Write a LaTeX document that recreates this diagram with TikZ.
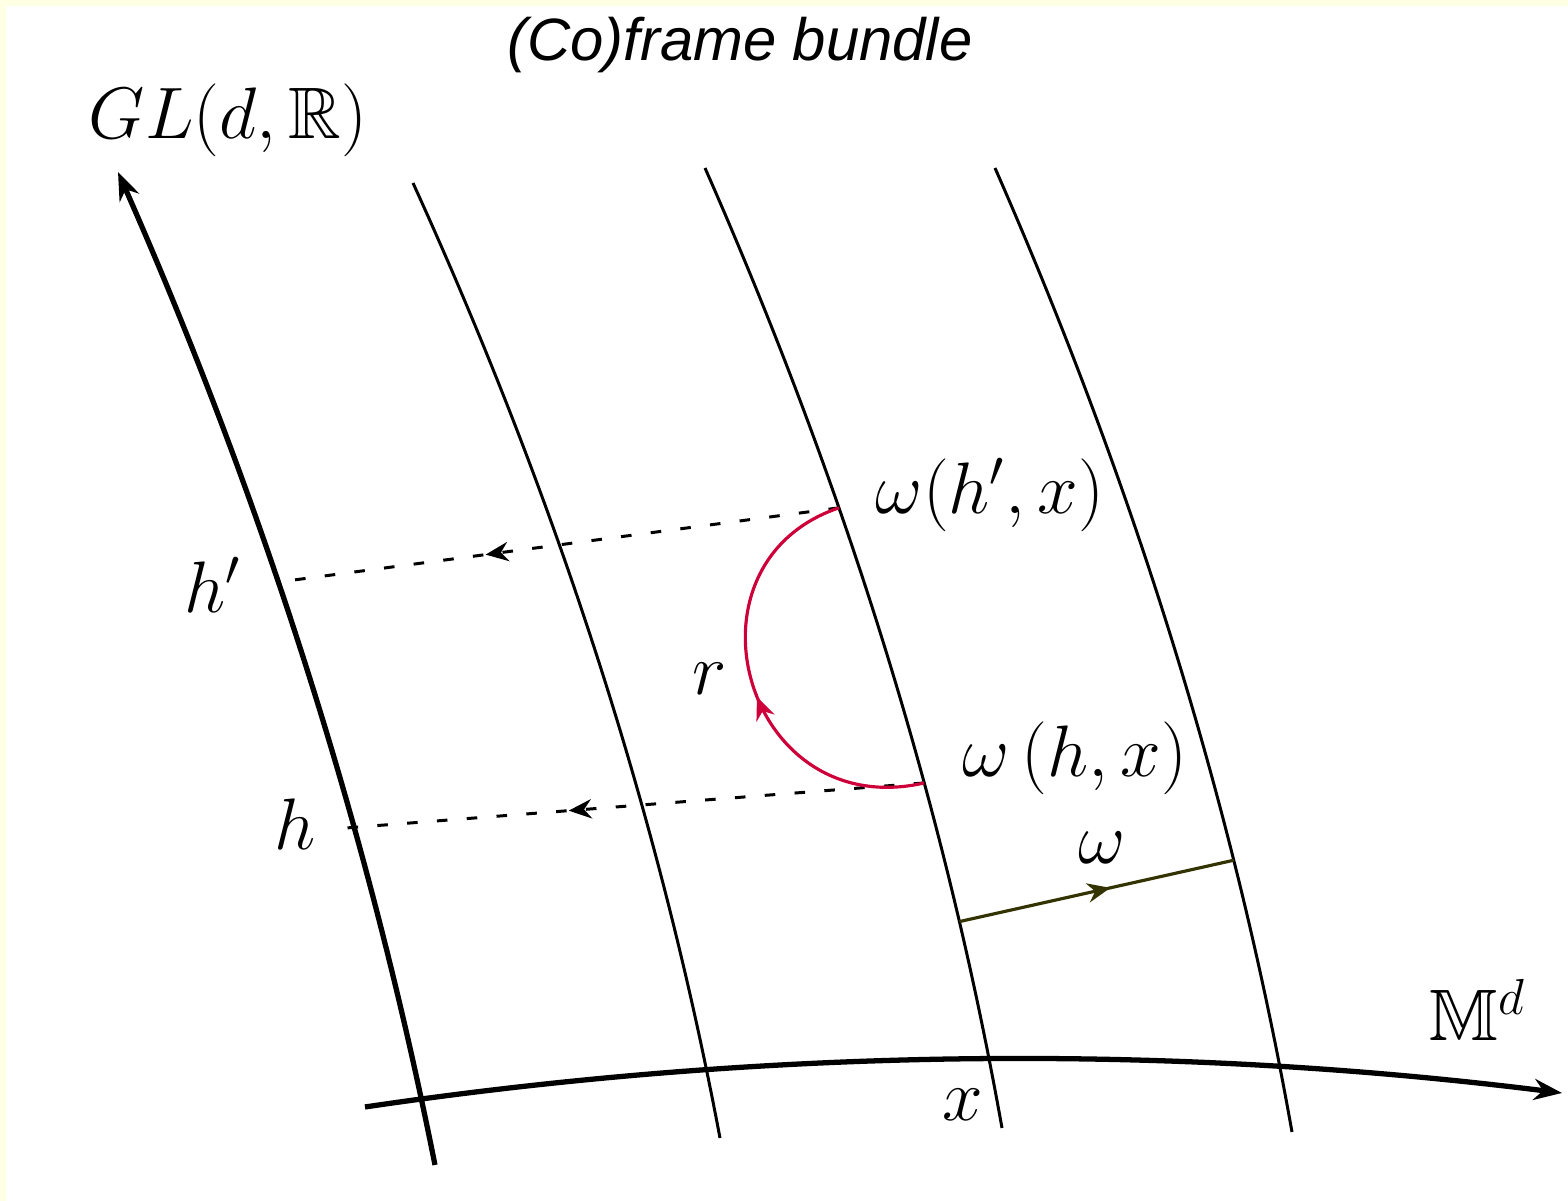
\documentclass[tikz,border=0pt]{standalone}
\usepackage{amsmath,amssymb}
\usepackage{fontspec}
\newfontfamily\titlesans{Liberation Sans}
\usetikzlibrary{arrows.meta,decorations.markings}
\definecolor{rotred}{RGB}{205,0,58}
\definecolor{vecolive}{RGB}{51,51,0}
\definecolor{paperyellow}{RGB}{255,255,230}

\begin{document}
\begin{tikzpicture}[x=0.01cm, y=0.01cm,
    fibre/.style={line width=0.85pt},
    axis/.style={line width=1.5pt, -{Stealth[length=8pt, width=6pt]}},
    lift/.style={line width=0.85pt, dash pattern=on 3pt off 5.5pt},
    midarrow/.style={postaction={decorate}, decoration={markings,
        mark=at position #1 with {\arrow{Stealth[length=6.5pt, width=5.5pt]}}}},
    lbl/.style={inner sep=0pt, font=\huge},
]
    % Page
    \fill[paperyellow] (0,0) rectangle (1568,-1201);
    \fill[white] (6,-6) rectangle (1568,-1201);
    \useasboundingbox (0,0) rectangle (1568,-1201);

    % Title
    \node[inner sep=0pt, font=\titlesans\itshape\fontsize{17}{20}\selectfont] (title) at (740,-45) {(Co)frame bundle};

    % Base manifold
    \coordinate (mstart) at (365,-1107);
    \coordinate (mend) at (1562,-1093);
    \draw[axis] (mstart) .. controls (764,-1048) and (1163,-1043) .. (mend);

    % Structure group axis (first fibre)
    \coordinate (glbot) at (435,-1165);
    \coordinate (gltop) at (118,-172);
    \draw[axis] (glbot) .. controls (369,-834) and (264,-503) .. (gltop)
        coordinate[pos=0.587] (hp)
        coordinate[pos=0.339, xshift=-0.13cm] (h);

    % Other fibres
    \draw[fibre] (413,-183) .. controls (558,-501) and (660,-820) .. (720,-1138);
    \draw[fibre] (705,-168) .. controls (846,-488) and (945,-808) .. (1002,-1128)
        coordinate[pos=0.354] (whp)
        coordinate[pos=0.6406] (wh)
        coordinate[pos=0.785] (wa);
    \draw[fibre] (995,-168) .. controls (1136,-489) and (1235,-811) .. (1292,-1132)
        coordinate[pos=0.718] (wb);

    % Pull back to the group
    \draw[lift, midarrow=0.63] (whp) -- (hp);
    \draw[lift, midarrow=0.61] (wh) -- (h);

    % Rotation r
    \draw[rotred, line width=0.9pt, midarrow=0.47] (wh) .. controls (744,-824) and (673,-564) .. (whp);

    % Coframe omega
    \draw[vecolive, line width=0.9pt, midarrow=0.55] (wa) -- (wb);

    % Labels
    \node[lbl] (gllabel) at (228,-120) {$GL(d,\mathbb{R})$};
    \node[lbl] (hplabel) at (213,-585) {$h'$};
    \node[lbl] (hlabel) at (295,-824) {$h$};
    \node[lbl] (rlabel) at (710,-679) {$r$};
    \node[lbl] (whplabel) at (990,-495) {$\omega(h',x)$};
    \node[lbl] (whlabel) at (1075,-758) {$\omega\left(h,x\right)$};
    \node[lbl] (wlabel) at (1102,-848) {$\omega$};
    \node[lbl] (xlabel) at (963,-1105) {$x$};
    \node[lbl] (mlabel) at (1478,-1010) {$\mathbb{M}^d$};
\end{tikzpicture}
\end{document}
